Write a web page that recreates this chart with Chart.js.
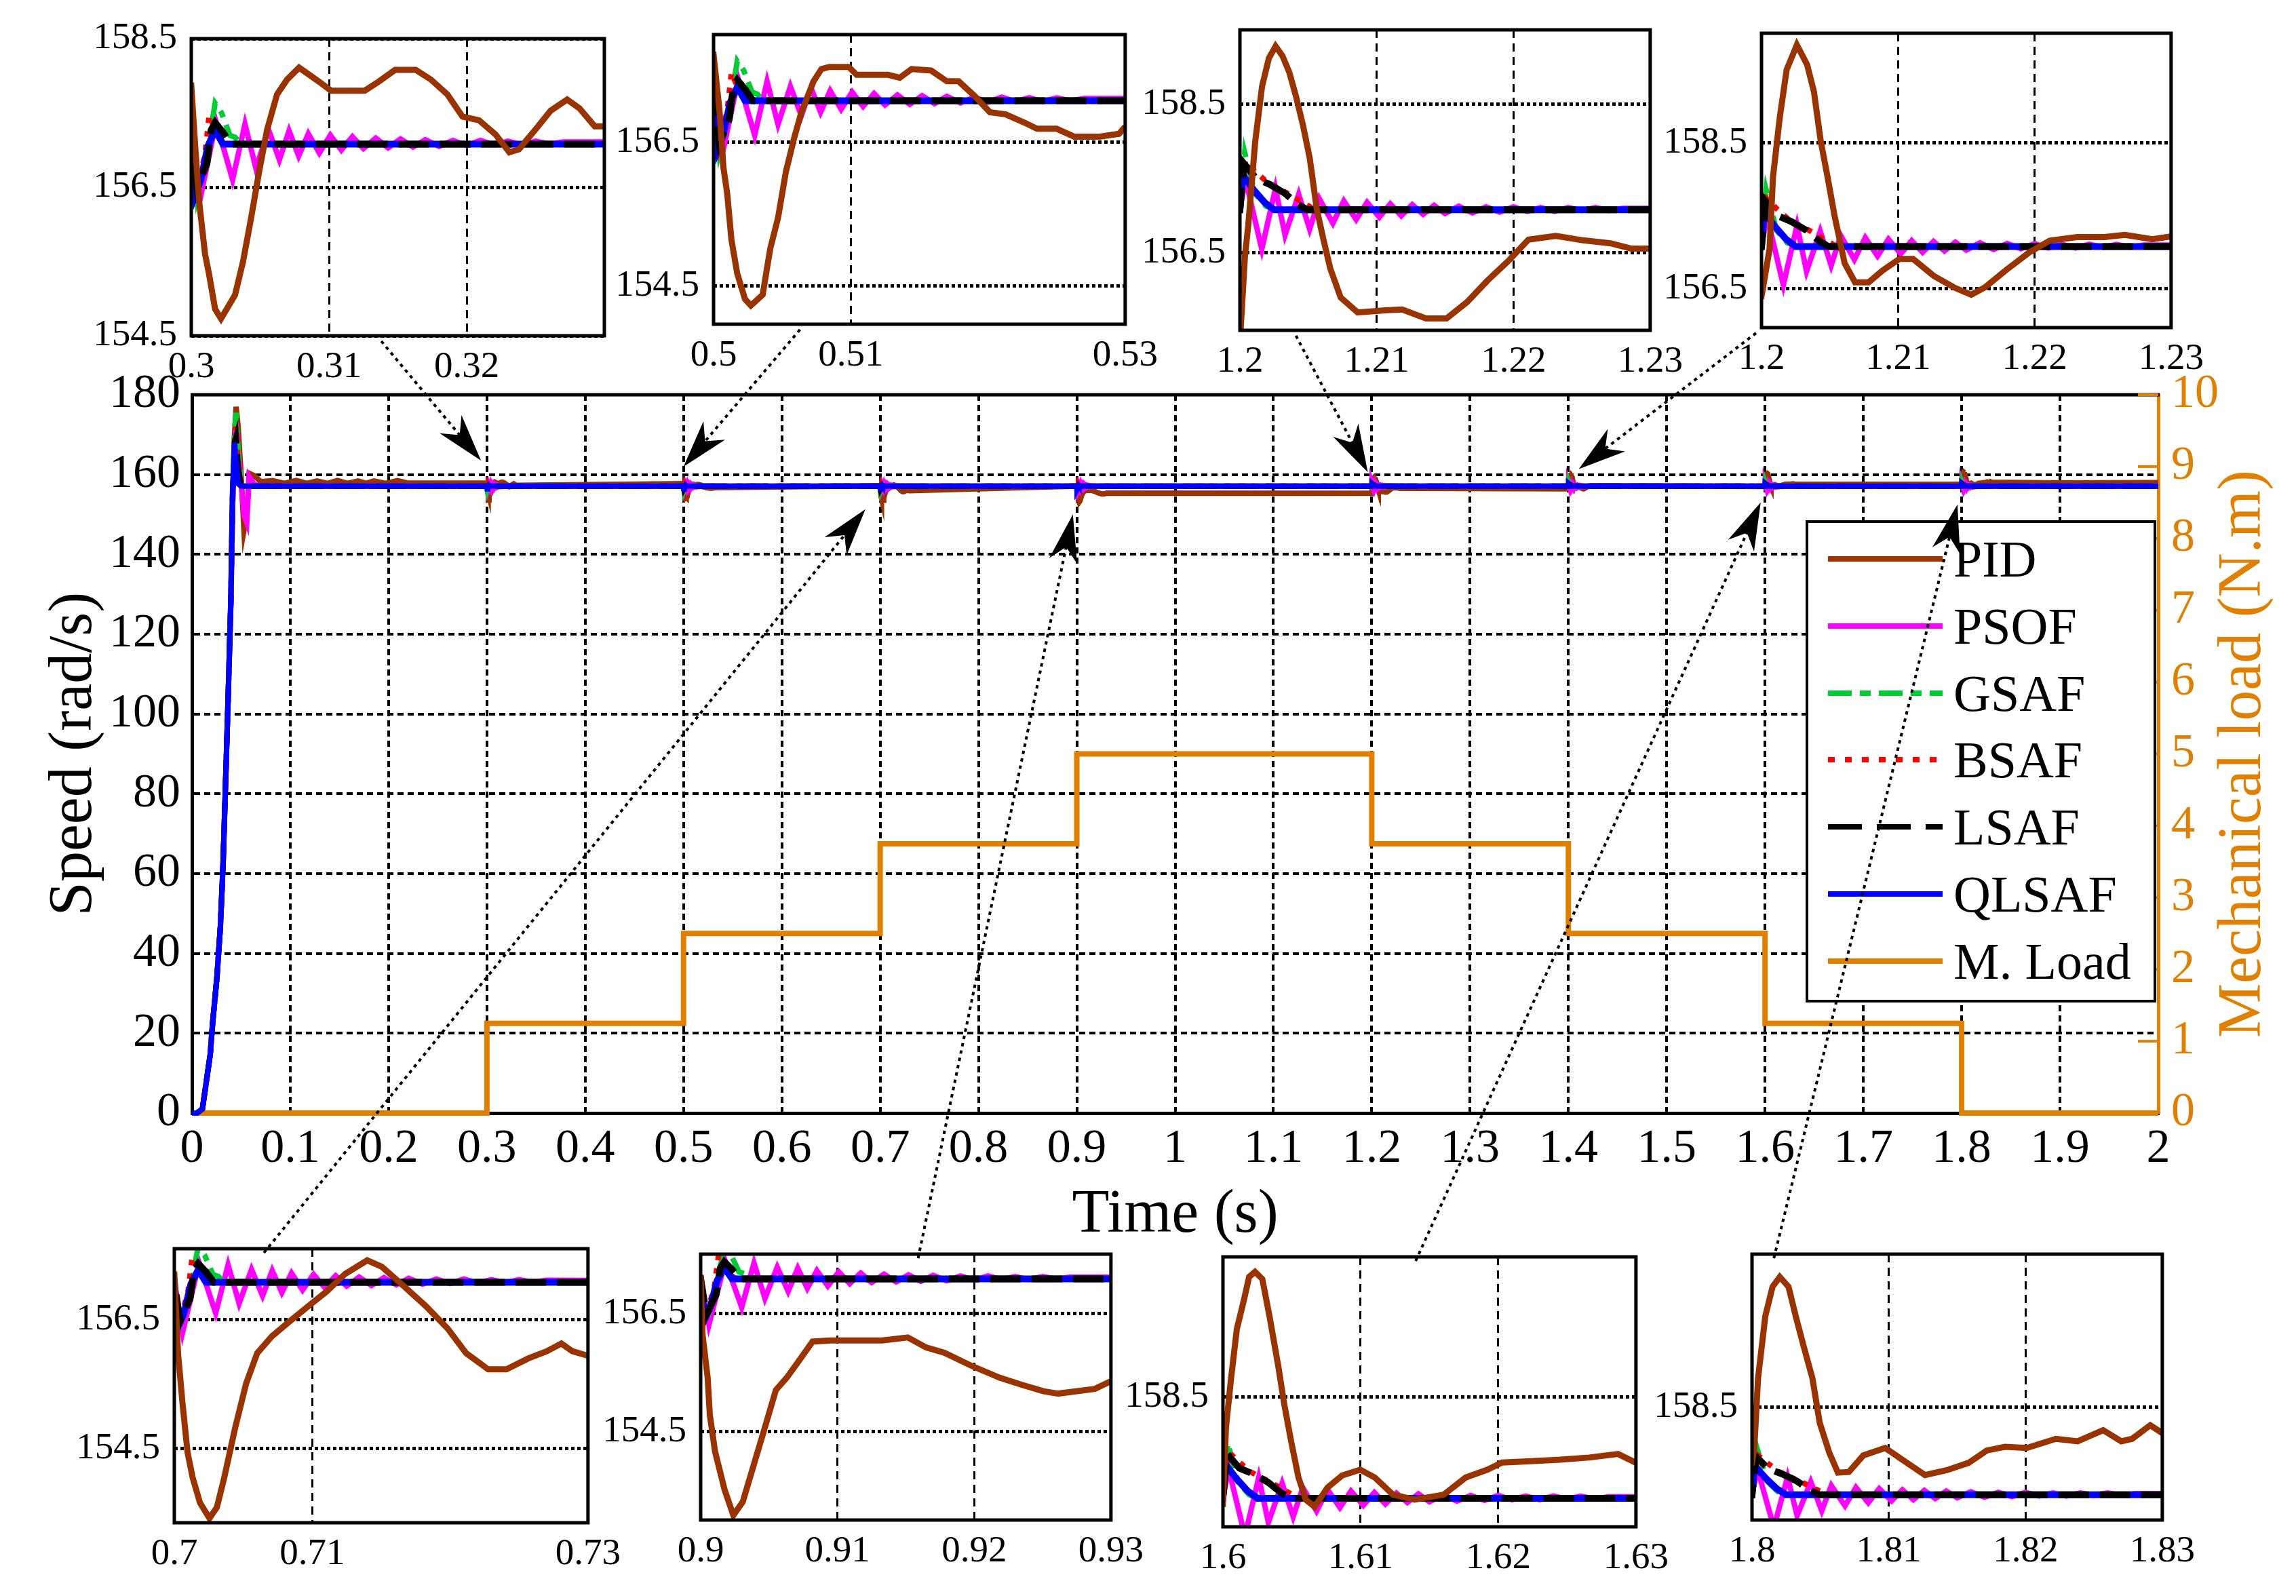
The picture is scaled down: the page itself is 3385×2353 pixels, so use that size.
<!DOCTYPE html>
<html>
<head>
<meta charset="utf-8">
<title>Speed response under load steps</title>
<script src="https://cdn.jsdelivr.net/npm/chart.js@4.4.1/dist/chart.umd.min.js"></script>
<style>
  html, body { margin: 0; padding: 0; background: #fff; }
  #page { position: relative; width: 3385px; height: 2353px; overflow: hidden; background: #fff; }
  #page canvas { position: absolute; pointer-events: none; }
  #legend { position: absolute; left: 2662px; top: 767px; width: 509px; height: 703px; border: 4px solid #000;
            background: #fff; font-family: 'Liberation Serif', 'Times New Roman', serif; font-size: 76px; color: #000; z-index: 3; }
  #legend .row { position: absolute; left: 0; width: 100%; height: 90px; line-height: 90px; white-space: nowrap; }
  #legend svg { position: absolute; left: 29px; top: 35px; }
  #legend span { position: absolute; left: 214px; top: 0; }
</style>
</head>
<body>
<div id="page">
  <canvas id="mainChart"></canvas>
  <div id="legend"></div>
  <canvas id="arrows"></canvas>
</div>
<script>
// ===== data =====
const seriesNames = ['PID', 'PSOF', 'GSAF', 'BSAF', 'LSAF', 'QLSAF'];
const loadName = 'M. Load';

const timeTicks = [0, 0.1, 0.2, 0.3, 0.4, 0.5, 0.6, 0.7, 0.8, 0.9, 1, 1.1, 1.2, 1.3, 1.4, 1.5, 1.6, 1.7, 1.8, 1.9, 2];
const speedTicks = [0, 20, 40, 60, 80, 100, 120, 140, 160, 180];
const loadTicks = [0, 1, 2, 3, 4, 5, 6, 7, 8, 9, 10];

// mechanical load steps (N.m)
const loadT = [0, 0.3, 0.5, 0.7, 0.9, 1.2, 1.4, 1.6, 1.8, 2];
const loadV = [0, 1.25, 2.5, 3.75, 5, 3.75, 2.5, 1.25, 0, 0];

// start-up (s, rad/s)
const startT = [0, 0.005, 0.0106, 0.0133, 0.0186, 0.021, 0.0254, 0.029, 0.0317, 0.0343, 0.037, 0.0396, 0.0412, 0.0433, 0.0449, 0.047, 0.05, 0.0529, 0.0558, 0.0582, 0.0635, 0.07];
const pidStartV = [0, 0, 1, 5.6, 14.7, 22.5, 34, 47, 62.8, 83.6, 105.7, 128, 150, 170, 177, 172, 160, 146, 150, 160.3, 159.7, 158.2];
const psofStartV = [0, 0, 1, 5.6, 14.7, 22.5, 34, 47, 62.8, 83.6, 105.7, 128, 152, 166, 173, 166, 158, 150, 148, 159.5, 157.5, 157.1];
const gsafStartV = [0, 0, 1, 5.6, 14.7, 22.5, 34, 47, 62.8, 83.6, 105.7, 129, 153, 171, 175.5, 166, 157.7, 157.1, 157.08, 157.08, 157.08, 157.08];
const bsafStartV = [0, 0, 1, 5.6, 14.7, 22.5, 34, 47, 62.8, 83.6, 105.7, 127.8, 152, 169, 172, 163, 157.5, 157.08, 157.08, 157.08, 157.08, 157.08];
const lsafStartV = [0, 0, 1, 5.6, 14.7, 22.5, 34, 47, 62.8, 83.6, 105.7, 129, 154, 168, 169.5, 162, 157.3, 157.08, 157.08, 157.08, 157.08, 157.08];
const qlsafStartV = [0, 0, 1, 5.6, 14.7, 22.5, 34, 47, 62.8, 83.6, 105.7, 129, 155, 168, 163, 157.7, 157.08, 157.08, 157.08, 157.08, 157.08, 157.08];

// PID ripple after start-up and tail
const pidSettleT = [0.082, 0.094, 0.106, 0.117, 0.127, 0.138, 0.148, 0.158, 0.169, 0.177, 0.185, 0.197, 0.209, 0.22, 0.26];
const pidSettleV = [158.5, 157.8, 158.5, 157.8, 158.4, 157.8, 158.5, 157.8, 158.4, 157.8, 158.4, 157.8, 158.5, 157.85, 157.85];
const pidTailT = [1.9, 2];
const pidTailV = [157.9, 158.0];

// load change instants
const eventT = [0.3, 0.5, 0.7, 0.9, 1.2, 1.4, 1.6, 1.8];
const eventUp = [true, true, true, true, false, false, false, false];

// PID response after each load change (ms after event, rad/s)
const pid03Ms = [0, 0.28, 0.57, 1.0, 1.29, 1.73, 2.16, 3.18, 3.76, 4.34, 4.92, 5.5, 6.23, 6.96, 7.83, 9.28, 10.15, 12.6, 13.6, 14.8, 16.3, 17.4, 18.6, 19.7, 20.9, 22.1, 23.1, 23.8, 25.1, 26.1, 27.3, 28.2, 29.3, 30.1];
const pid03V = [157.87, 157.07, 156.31, 155.6, 155.33, 154.86, 154.73, 155.05, 155.5, 156.08, 156.7, 157.27, 157.75, 157.95, 158.11, 157.92, 157.8, 157.8, 157.92, 158.08, 158.08, 157.95, 157.75, 157.45, 157.4, 157.21, 156.97, 157.01, 157.3, 157.53, 157.68, 157.56, 157.32, 157.32];
const pid05Ms = [0, 0.43, 0.72, 1.0, 1.3, 1.72, 2.29, 2.72, 3.58, 4.13, 4.7, 5.27, 5.86, 6.4, 7.29, 7.86, 8.43, 9.85, 10.43, 12.72, 13.57, 14.43, 15.86, 17.0, 17.86, 19.0, 20.14, 21.29, 22.71, 23.57, 25.0, 26.28, 28.14, 29.55, 30.0];
const pid05V = [157.72, 156.95, 156.15, 155.78, 155.15, 154.68, 154.32, 154.23, 154.38, 155.02, 155.45, 156.09, 156.55, 156.92, 157.35, 157.52, 157.55, 157.55, 157.44, 157.44, 157.4, 157.52, 157.5, 157.35, 157.35, 157.15, 156.92, 156.89, 156.77, 156.69, 156.69, 156.58, 156.58, 156.62, 156.72];
const pid07Ms = [0, 0.27, 0.59, 0.96, 1.33, 1.86, 2.55, 3.09, 3.62, 4.41, 5.21, 6.01, 7.07, 8.4, 9.73, 11.06, 12.39, 13.99, 15.05, 16.64, 18.24, 19.83, 21.16, 22.76, 24.09, 25.68, 27.01, 28.07, 28.87, 29.99];
const pid07V = [157.2, 155.98, 155.21, 154.44, 154.05, 153.66, 153.42, 153.59, 154.05, 154.82, 155.51, 155.98, 156.24, 156.48, 156.71, 156.94, 157.21, 157.42, 157.32, 157.02, 156.71, 156.36, 155.98, 155.73, 155.73, 155.9, 156.01, 156.13, 156.01, 155.94];
const pid09Ms = [0, 0.14, 0.51, 0.67, 1.05, 1.74, 2.39, 3.08, 3.89, 4.7, 5.5, 6.3, 7.11, 8.18, 9.52, 13.27, 15.15, 16.49, 17.83, 19.71, 21.85, 23.46, 25.07, 26.14, 28.82, 30.0];
const pid09V = [157.1, 156.13, 155.41, 154.78, 154.16, 153.52, 153.08, 153.31, 153.94, 154.57, 155.2, 155.41, 155.67, 156.02, 156.04, 156.04, 156.09, 155.92, 155.83, 155.62, 155.41, 155.29, 155.18, 155.14, 155.22, 155.35];
const pid12Ms = [0, 0.37, 0.61, 1.12, 1.62, 2.12, 2.61, 3.11, 3.61, 4.11, 4.61, 5.11, 5.62, 6.11, 6.61, 7.37, 8.61, 10.61, 11.86, 13.61, 15.11, 16.61, 18.11, 19.61, 21.1, 23.1, 25.1, 27.1, 28.6, 30.0];
const pid12V = [155.3, 156.46, 156.87, 158.0, 158.74, 159.12, 159.28, 159.15, 158.93, 158.6, 158.22, 157.77, 157.09, 156.68, 156.29, 155.9, 155.7, 155.73, 155.74, 155.62, 155.62, 155.84, 156.13, 156.39, 156.68, 156.73, 156.67, 156.63, 156.56, 156.56];
const pid14Ms = [0, 0.09, 0.59, 0.84, 1.34, 1.84, 2.59, 3.34, 3.84, 4.34, 4.84, 5.35, 6.09, 6.85, 7.85, 8.85, 10.1, 11.1, 12.6, 14.1, 15.36, 16.36, 17.86, 19.61, 21.11, 23.11, 25.11, 26.62, 28.62, 30.02];
const pid14V = [156.4, 156.49, 157.05, 158.03, 158.85, 159.5, 159.84, 159.57, 159.2, 158.52, 158.03, 157.5, 156.85, 156.59, 156.59, 156.75, 156.91, 156.91, 156.68, 156.52, 156.42, 156.52, 156.75, 157.0, 157.16, 157.21, 157.21, 157.24, 157.18, 157.22];
const pid16Ms = [0, 0.22, 0.59, 1.01, 1.54, 1.9, 2.33, 2.86, 3.38, 4.02, 4.44, 4.97, 5.49, 6.02, 6.66, 7.6, 8.66, 9.98, 11.03, 12.35, 13.93, 16.04, 17.63, 19.21, 20.27, 22.38, 24.49, 26.59, 28.7, 29.97];
const pid16V = [157.0, 158.07, 158.76, 159.45, 159.87, 160.18, 160.25, 160.15, 159.63, 158.93, 158.41, 157.86, 157.37, 157.06, 156.96, 157.23, 157.4, 157.48, 157.37, 157.13, 157.06, 157.13, 157.37, 157.48, 157.58, 157.6, 157.62, 157.65, 157.7, 157.58];
const pid18Ms = [0, 0.17, 0.44, 0.97, 1.5, 2.03, 2.67, 3.2, 3.73, 4.42, 4.95, 5.64, 6.28, 7.08, 8.14, 9.74, 11.06, 12.65, 14.25, 15.84, 17.17, 18.5, 20.09, 22.22, 23.81, 25.67, 27.0, 27.8, 29.12, 30.08];
const pid18V = [157.6, 157.84, 158.97, 159.98, 160.46, 160.62, 160.46, 159.98, 159.53, 158.97, 158.25, 157.77, 157.44, 157.45, 157.72, 157.84, 157.64, 157.4, 157.48, 157.6, 157.8, 157.86, 157.84, 157.99, 157.95, 158.13, 157.95, 157.99, 158.21, 158.07];

// optimised controllers: response to a load increase (dip) and a load decrease (rise)
const psofDipMs = [0, 0.6, 1.8, 3.0, 3.9, 4.7, 5.6, 6.4, 7.1, 7.8, 8.5, 9.3, 10.1, 10.9, 11.7, 12.5, 13.4, 14.3, 15.2, 16.1, 17.0, 18.0, 19.0, 20.0, 21.0, 22.0, 23.0, 24.0, 25.0, 26.0, 27.0];
const psofDipV = [157.08, 156.3, 157.38, 156.6, 157.35, 156.75, 157.28, 156.87, 157.26, 156.92, 157.22, 156.96, 157.2, 157.0, 157.18, 157.02, 157.16, 157.03, 157.15, 157.04, 157.14, 157.05, 157.13, 157.06, 157.13, 157.07, 157.12, 157.07, 157.12, 157.08, 157.11];
const gsafDipMs = [0, 0.4, 1.1, 1.73, 2.2, 2.8, 3.2, 3.6];
const gsafDipV = [157.08, 156.35, 156.9, 157.63, 157.5, 157.2, 157.17, 157.08];
const bsafDipMs = [0, 0.4, 1.0, 1.3, 1.9, 2.6];
const bsafDipV = [157.08, 156.45, 156.95, 157.47, 157.2, 157.08];
const lsafDipMs = [0, 0.42, 1.14, 1.44, 1.73, 2.3, 2.87];
const lsafDipV = [157.08, 156.48, 156.82, 157.27, 157.37, 157.24, 157.08];
const qlsafDipMs = [0, 0.3, 0.7, 1.2, 1.73, 2.3];
const qlsafDipV = [157.08, 156.4, 156.6, 157.05, 157.27, 157.08];

const psofRiseMs = [0, 0.4, 1.6, 2.6, 3.3, 4.3, 5.1, 5.8, 6.8, 7.6, 8.5, 9.3, 10.2, 11, 11.8, 12.6, 13.4, 14.2, 15, 16, 17, 18, 19, 20, 21, 22, 23, 24, 25, 26, 27, 28];
const psofRiseV = [157.08, 157.5, 156.55, 157.37, 156.74, 157.29, 156.82, 157.23, 156.9, 157.2, 156.95, 157.18, 156.98, 157.16, 157.0, 157.15, 157.02, 157.14, 157.03, 157.13, 157.04, 157.12, 157.05, 157.12, 157.06, 157.11, 157.06, 157.11, 157.07, 157.11, 157.07, 157.1];
const gsafRiseMs = [0, 0.35, 1.1, 1.9, 2.6];
const gsafRiseV = [157.08, 157.85, 157.3, 157.13, 157.08];
const bsafRiseMs = [0, 0.4, 1.1, 2.0, 3.5, 5.5];
const bsafRiseV = [157.08, 157.73, 157.6, 157.45, 157.3, 157.08];
const lsafRiseMs = [0, 0.3, 1.2, 2.2, 3.3, 4.2, 4.9];
const lsafRiseV = [157.08, 157.7, 157.5, 157.42, 157.3, 157.16, 157.08];
const qlsafRiseMs = [0, 0.2, 1.0, 1.8, 2.5];
const qlsafRiseV = [157.08, 157.55, 157.35, 157.18, 157.08];

// zoom windows
const insetTimeMin = [0.3, 0.5, 1.2, 1.4, 0.7, 0.9, 1.6, 1.8];
const insetTimeMax = [0.33, 0.53, 1.23, 1.43, 0.73, 0.93, 1.63, 1.83];
const insetTimeTicks = [[0.3, 0.31, 0.32], [0.5, 0.51, 0.53], [1.2, 1.21, 1.22, 1.23], [1.4, 1.41, 1.42, 1.43],
                        [0.7, 0.71, 0.73], [0.9, 0.91, 0.92, 0.93], [1.6, 1.61, 1.62, 1.63], [1.8, 1.81, 1.82, 1.83]];
const insetTimeLabels = [['0.3', '0.31', '0.32'], ['0.5', '0.51', '0.53'], ['1.2', '1.21', '1.22', '1.23'], ['1.2', '1.21', '1.22', '1.23'],
                         ['0.7', '0.71', '0.73'], ['0.9', '0.91', '0.92', '0.93'], ['1.6', '1.61', '1.62', '1.63'], ['1.8', '1.81', '1.82', '1.83']];
const insetSpeedMin = [154.5, 153.97, 155.46, 155.97, 153.35, 153.0, 156.68, 156.67];
const insetSpeedMax = [158.5, 158.0, 159.5, 160.0, 157.6, 157.5, 160.46, 160.99];
const insetSpeedTicks = [[154.5, 156.5, 158.5], [154.5, 156.5], [156.5, 158.5], [156.5, 158.5], [154.5, 156.5], [154.5, 156.5], [158.5], [158.5]];

// ===== look =====
const serifName = 'Liberation Serif';
const serif = "'Liberation Serif', 'Times New Roman', serif";
const seriesColors = ['#993300', '#ff00ff', '#00cc33', '#ff0000', '#000000', '#0000ff'];
const loadColor = '#e07f00';
const seriesDash = [[], [], [30, 12, 10, 12], [8, 12], [45, 16], []];
const legendDash = [[], [], [35, 12, 16, 12], [10, 15], [50, 22], [], []];
const mainOrder = [5, 4, 3, 2, 1, 0];
const insetOrder = [0, 5, 4, 3, 1, 2];
const insetWidth = [9, 8, 8, 8, 10, 10];

// box of each zoom window on the page: left, top, right, bottom
const insetBoxes = [
  [282, 43, 891, 495], [1052, 37, 1661, 478], [1828, 30, 2435, 487], [2597, 35, 3203, 483],
  [257, 1827, 869, 2245], [1033, 1835, 1640, 2241], [1803, 1839, 2414, 2251], [2583, 1835, 3190, 2241]
];
const INSET_LEFT = 170, INSET_TOP = 40, INSET_RIGHT = 60, INSET_BOTTOM = 90;
const MAIN_LEFT = 0, MAIN_TOP = 480, MAIN_W = 3385, MAIN_H = 1366;

// arrows: inset, time on inset edge, edge, target time, target speed
const arrowLinks = [
  [0, 0.3138, 'bottom', 0.294, 163.5],
  [1, 0.5063, 'bottom', 0.5, 162],
  [2, 1.2041, 'bottom', 1.196, 160.6],
  [3, 1.3996, 'bottom', 1.4106, 161.4],
  [4, 0.7065, 'top', 0.685, 151.3],
  [5, 0.9159, 'top', 0.896, 150],
  [6, 1.614, 'top', 1.5956, 153],
  [7, 1.8016, 'top', 1.7957, 152.5]
];

// ===== build series =====
const startV = [pidStartV, psofStartV, gsafStartV, bsafStartV, lsafStartV, qlsafStartV];
const pidMs = [pid03Ms, pid05Ms, pid07Ms, pid09Ms, pid12Ms, pid14Ms, pid16Ms, pid18Ms];
const pidV = [pid03V, pid05V, pid07V, pid09V, pid12V, pid14V, pid16V, pid18V];
const dipMs = [null, psofDipMs, gsafDipMs, bsafDipMs, lsafDipMs, qlsafDipMs];
const dipV = [null, psofDipV, gsafDipV, bsafDipV, lsafDipV, qlsafDipV];
const riseMs = [null, psofRiseMs, gsafRiseMs, bsafRiseMs, lsafRiseMs, qlsafRiseMs];
const riseV = [null, psofRiseV, gsafRiseV, bsafRiseV, lsafRiseV, qlsafRiseV];

function toPoints(ts, vs, t0, unit) {
  const n = Math.min(ts.length, vs.length);
  const out = [];
  for (let i = 0; i < n; i++) out.push({x: t0 + ts[i] * unit, y: vs[i]});
  return out;
}

function buildSpeed(k) {
  let pts = toPoints(startT, startV[k], 0, 1);
  if (k === 0) pts = pts.concat(toPoints(pidSettleT, pidSettleV, 0, 1));
  eventT.forEach((t0, e) => {
    if (k === 0) pts = pts.concat(toPoints(pidMs[e], pidV[e], t0, 0.001));
    else if (eventUp[e]) pts = pts.concat(toPoints(dipMs[k], dipV[k], t0, 0.001));
    else pts = pts.concat(toPoints(riseMs[k], riseV[k], t0, 0.001));
  });
  if (k === 0) pts = pts.concat(toPoints(pidTailT, pidTailV, 0, 1));
  else pts.push({x: 2, y: pts[pts.length - 1].y});
  return pts;
}

// ===== plugins =====
const framePlugin = {
  id: 'frame',
  afterDraw(chart, args, opts) {
    const {ctx, chartArea: a} = chart;
    ctx.save();
    ctx.strokeStyle = '#000';
    ctx.lineWidth = opts.width;
    if (opts.all) {
      ctx.strokeRect(a.left, a.top, a.right - a.left, a.bottom - a.top);
    } else {
      ctx.beginPath();
      ctx.moveTo(a.left - 2, a.top);
      ctx.lineTo(a.right + 2, a.top);
      ctx.stroke();
    }
    ctx.restore();
  }
};

// right axis: bottom-to-top title and short inward tick marks
const sideAxisPlugin = {
  id: 'sideAxis',
  afterDraw(chart, args, opts) {
    const sc = chart.scales[opts.axis];
    const ctx = chart.ctx;
    ctx.save();
    ctx.strokeStyle = opts.color;
    ctx.lineWidth = 4;
    sc.ticks.forEach(t => {
      const y = sc.getPixelForValue(t.value);
      ctx.beginPath();
      ctx.moveTo(sc.left, y);
      ctx.lineTo(sc.left - opts.tickLen, y);
      ctx.stroke();
    });
    ctx.translate(sc.right - opts.offset, (sc.top + sc.bottom) / 2);
    ctx.rotate(-Math.PI / 2);
    ctx.fillStyle = opts.color;
    ctx.font = opts.size + 'px ' + serif;
    ctx.textAlign = 'center';
    ctx.textBaseline = 'middle';
    ctx.fillText(opts.text, 0, 0);
    ctx.restore();
  }
};

function place(cv, left, top, w, h) {
  cv.width = w; cv.height = h;
  cv.style.left = left + 'px'; cv.style.top = top + 'px';
  cv.style.width = w + 'px'; cv.style.height = h + 'px';
}

// ===== main chart =====
const mainCanvas = document.getElementById('mainChart');
place(mainCanvas, MAIN_LEFT, MAIN_TOP, MAIN_W, MAIN_H);
mainCanvas.style.zIndex = 1;

const mainSets = seriesNames.map((name, k) => ({
  label: name,
  data: buildSpeed(k),
  borderColor: seriesColors[k],
  borderWidth: 8,
  borderDash: seriesDash[k],
  pointRadius: 0,
  yAxisID: 'y',
  order: mainOrder[k],
  clip: 10
}));
mainSets.push({
  label: loadName,
  data: toPoints(loadT, loadV, 0, 1),
  borderColor: loadColor,
  borderWidth: 8,
  stepped: true,
  pointRadius: 0,
  yAxisID: 'load',
  order: 6,
  clip: 10
});

const mainChart = new Chart(mainCanvas, {
  type: 'line',
  data: { datasets: mainSets },
  options: {
    responsive: false, animation: false, devicePixelRatio: 1, events: [],
    layout: { padding: { top: 102, left: 0, right: 0, bottom: 0 } },
    plugins: {
      legend: { display: false }, tooltip: { enabled: false },
      frame: { width: 5, all: false },
      sideAxis: { axis: 'load', text: 'Mechanical load (N.m)', color: loadColor, size: 90, offset: 77, tickLen: 30 }
    },
    scales: {
      x: {
        type: 'linear', min: 0, max: 2,
        afterBuildTicks: a => { a.ticks = timeTicks.map(v => ({value: v})); },
        afterFit: a => { a.height = 205; },
        ticks: { callback: v => String(+v.toFixed(1)), font: { family: serif, size: 70 }, color: '#000', padding: 12, maxRotation: 0, autoSkip: false },
        grid: { color: '#000', lineWidth: 4, drawTicks: false },
        border: { color: '#000', width: 5, dash: [9, 6] },
        title: { display: true, text: 'Time (s)', font: { family: serif, size: 90 }, color: '#000', padding: { top: 0, bottom: 0 } }
      },
      y: {
        type: 'linear', position: 'left', min: 0, max: 180,
        afterBuildTicks: a => { a.ticks = speedTicks.map(v => ({value: v})); },
        afterFit: a => { a.width = 283; },
        ticks: { font: { family: serif, size: 70 }, color: '#000', padding: 17 },
        grid: { color: '#000', lineWidth: 4, drawTicks: false },
        border: { color: '#000', width: 5, dash: [9, 6] },
        title: { display: true, text: 'Speed (rad/s)', font: { family: serif, size: 90 }, color: '#000', padding: { top: 56, bottom: 0 } }
      },
      load: {
        type: 'linear', position: 'right', min: 0, max: 10,
        afterBuildTicks: a => { a.ticks = loadTicks.map(v => ({value: v})); },
        afterFit: a => { a.width = 203; },
        ticks: { font: { family: serif, size: 70 }, color: loadColor, padding: 19 },
        grid: { drawOnChartArea: false, drawTicks: false },
        border: { color: loadColor, width: 5 }
      }
    }
  },
  plugins: [framePlugin, sideAxisPlugin]
});

// ===== zoom windows =====
const page = document.getElementById('page');
const insetCharts = insetBoxes.map((b, k) => {
  const cv = document.createElement('canvas');
  place(cv, b[0] - INSET_LEFT, b[1] - INSET_TOP, b[2] - b[0] + INSET_LEFT + INSET_RIGHT, b[3] - b[1] + INSET_TOP + INSET_BOTTOM);
  cv.style.zIndex = 2;
  page.appendChild(cv);
  const sets = seriesNames.map((name, s) => ({
    label: name,
    data: buildSpeed(s),
    borderColor: seriesColors[s],
    borderWidth: insetWidth[s],
    borderDash: seriesDash[s],
    pointRadius: 0,
    order: insetOrder[s]
  }));
  return new Chart(cv, {
    type: 'line',
    data: { datasets: sets },
    options: {
      responsive: false, animation: false, devicePixelRatio: 1, events: [],
      layout: { padding: { top: INSET_TOP, right: INSET_RIGHT, left: 0, bottom: 0 } },
      plugins: { legend: { display: false }, tooltip: { enabled: false }, frame: { width: 5, all: true } },
      scales: {
        x: {
          type: 'linear', min: insetTimeMin[k], max: insetTimeMax[k],
          afterBuildTicks: a => { a.ticks = insetTimeTicks[k].map(v => ({value: v})); },
          afterFit: a => { a.height = INSET_BOTTOM; },
          ticks: { callback: (v, i) => insetTimeLabels[k][i], font: { family: serif, size: 55 }, color: '#000', padding: 14, maxRotation: 0, autoSkip: false },
          grid: { color: '#000', lineWidth: 3, drawTicks: false },
          border: { display: false, dash: [12, 8] }
        },
        y: {
          type: 'linear', min: insetSpeedMin[k], max: insetSpeedMax[k],
          afterBuildTicks: a => { a.ticks = insetSpeedTicks[k].map(v => ({value: v})); },
          afterFit: a => { a.width = INSET_LEFT; },
          ticks: { callback: v => v.toFixed(1), font: { family: serif, size: 55 }, color: '#000', padding: 21 },
          grid: { color: '#000', lineWidth: 5, drawTicks: false },
          border: { display: false, dash: [5, 4] }
        }
      }
    },
    plugins: [framePlugin]
  });
});

// ===== legend =====
const legendBox = document.getElementById('legend');
const legendNames = seriesNames.concat([loadName]);
const legendColors = seriesColors.concat([loadColor]);
legendNames.forEach((name, i) => {
  const row = document.createElement('div');
  row.className = 'row';
  row.style.top = (53 + i * 98.8 - 45) + 'px';
  row.innerHTML = '<svg width="169" height="20"><line x1="0" y1="10" x2="169" y2="10" stroke="' + legendColors[i] +
    '" stroke-width="8" stroke-dasharray="' + legendDash[i].join(' ') + '"/></svg><span>' + name + '</span>';
  legendBox.appendChild(row);
});

// ===== arrows from zoom windows to the main curves =====
const arrowCanvas = document.getElementById('arrows');
place(arrowCanvas, 0, 0, 3385, 2353);
arrowCanvas.style.zIndex = 4;

function drawArrows() {
  const actx = arrowCanvas.getContext('2d');
  actx.clearRect(0, 0, arrowCanvas.width, arrowCanvas.height);
  actx.fillStyle = '#000';
  actx.strokeStyle = '#000';
  arrowLinks.forEach(([k, it, edge, mt, mv]) => {
    const ch = insetCharts[k];
    const b = insetBoxes[k];
    const ox = b[0] - INSET_LEFT, oy = b[1] - INSET_TOP;
    const sx = ox + ch.scales.x.getPixelForValue(it);
    const sy = oy + (edge === 'top' ? ch.chartArea.top + 6 : ch.chartArea.bottom + 8);
    const tx = MAIN_LEFT + mainChart.scales.x.getPixelForValue(mt);
    const ty = MAIN_TOP + mainChart.scales.y.getPixelForValue(mv);
    const ang = Math.atan2(ty - sy, tx - sx);
    const L = 70, W = 21;
    actx.save();
    actx.lineWidth = 4;
    actx.setLineDash([5, 6]);
    actx.beginPath();
    actx.moveTo(sx, sy);
    actx.lineTo(tx - Math.cos(ang) * L * 0.7, ty - Math.sin(ang) * L * 0.7);
    actx.stroke();
    actx.setLineDash([]);
    actx.translate(tx, ty);
    actx.rotate(ang);
    actx.beginPath();
    actx.moveTo(0, 0);
    actx.lineTo(-L, -W);
    actx.lineTo(-L * 0.7, 0);
    actx.lineTo(-L, W);
    actx.closePath();
    actx.fill();
    actx.restore();
  });
}
drawArrows();

// canvas text needs the serif face loaded; redraw once it is
if (document.fonts && document.fonts.load) {
  Promise.all([55, 70, 90].map(s => document.fonts.load(s + "px '" + serifName + "'"))).then(() => {
    mainChart.update('none');
    insetCharts.forEach(c => c.update('none'));
    drawArrows();
  });
}
</script>
</body>
</html>
